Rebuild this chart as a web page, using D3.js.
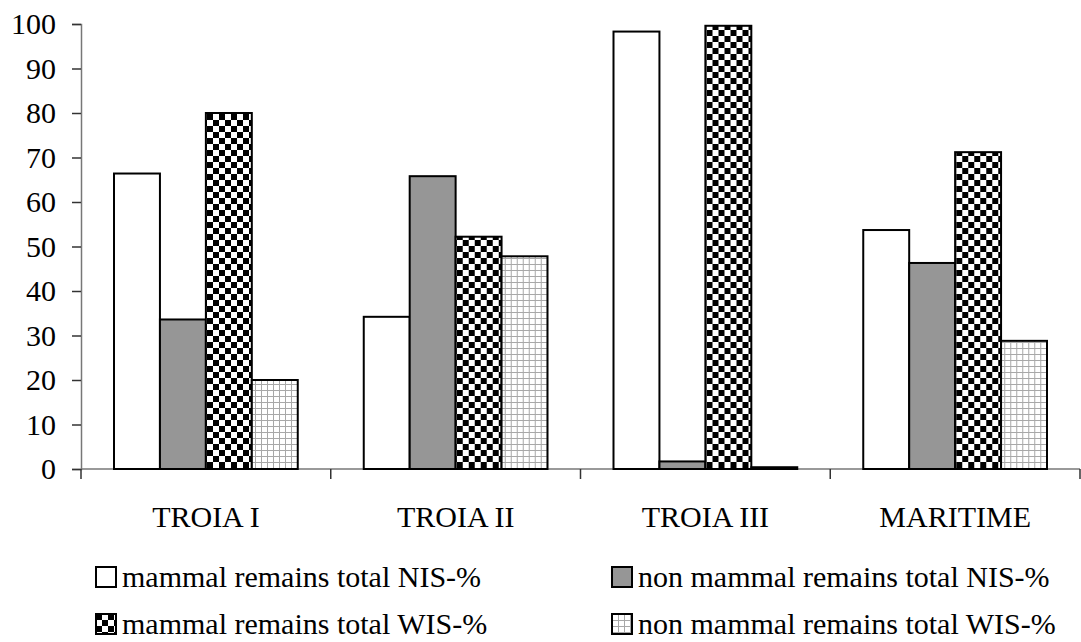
<!DOCTYPE html>
<html>
<head>
<meta charset="utf-8">
<script src="https://cdn.jsdelivr.net/npm/d3@7"></script>
<style>
  body { margin: 0; background: #fff; }
  svg text { font-family: "Liberation Serif", "Times New Roman", serif; fill: #000; }
</style>
</head>
<body>
<svg id="chart" width="1081" height="642"></svg>
<script>
// data
const sites = ["TROIA I", "TROIA II", "TROIA III", "MARITIME"];
const seriesNames = [
  "mammal remains total NIS-%",
  "non mammal remains total NIS-%",
  "mammal remains total WIS-%",
  "non mammal remains total WIS-%"
];
const mammalNIS = [66.4, 34.2, 98.3, 53.7];
const nonMammalNIS = [33.6, 65.8, 1.7, 46.3];
const mammalWIS = [80.0, 52.2, 99.6, 71.2];
const nonMammalWIS = [20.0, 47.8, 0.4, 28.8];
const yTicks = [0, 10, 20, 30, 40, 50, 60, 70, 80, 90, 100];

const allSeries = [mammalNIS, nonMammalNIS, mammalWIS, nonMammalWIS];
const fills = ["#ffffff", "#969696", "url(#checker)", "url(#grid)"];

const svg = d3.select("#chart");
const margin = { top: 24, right: 1, bottom: 173, left: 81 };
const width = 1081 - margin.left - margin.right;
const height = 642 - margin.top - margin.bottom;

// patterns
const defs = svg.append("defs");
const checker = defs.append("pattern")
  .attr("id", "checker").attr("patternUnits", "userSpaceOnUse")
  .attr("width", 12).attr("height", 12);
checker.append("rect").attr("width", 12).attr("height", 12).attr("fill", "#fff");
checker.append("rect").attr("width", 6).attr("height", 6).attr("fill", "#000");
checker.append("rect").attr("x", 6).attr("y", 6).attr("width", 6).attr("height", 6).attr("fill", "#000");

const grid = defs.append("pattern")
  .attr("id", "grid").attr("patternUnits", "userSpaceOnUse")
  .attr("width", 6).attr("height", 6);
grid.append("rect").attr("width", 6).attr("height", 6).attr("fill", "#fff");
grid.append("path").attr("d", "M0,0.5H6M0.5,0V6")
  .attr("stroke", "#a8a8a8").attr("stroke-width", 1).attr("fill", "none");

const g = svg.append("g")
  .attr("transform", "translate(" + margin.left + "," + margin.top + ")");

const x0 = d3.scaleBand().domain(sites).range([0, width]).paddingInner(0).paddingOuter(0);
const x1 = d3.scaleBand().domain(d3.range(4)).range([33, x0.bandwidth() - 33]);
const y = d3.scaleLinear().domain([0, 100]).range([height, 0]);

// y axis
const yAxis = g.append("g")
  .call(d3.axisLeft(y).tickValues(yTicks).tickSize(9).tickPadding(16));
yAxis.select(".domain").attr("stroke", "#777").attr("stroke-width", 1.5);
yAxis.selectAll(".tick line").attr("stroke", "#333").attr("stroke-width", 1.5);
yAxis.selectAll(".tick text").style("font-size", "30px");

// x axis
const xAxis = g.append("g")
  .attr("transform", "translate(0," + height + ")")
  .call(d3.axisBottom(x0).tickSize(0).tickPadding(37));
xAxis.select(".domain").remove();
xAxis.append("line")
  .attr("x1", 0).attr("x2", width)
  .attr("stroke", "#777").attr("stroke-width", 1.5);
xAxis.selectAll(".tick text").style("font-size", "30px");
xAxis.selectAll(".catTick")
  .data(d3.range(sites.length + 1))
  .enter().append("line")
  .attr("x1", (d) => d * x0.bandwidth())
  .attr("x2", (d) => d * x0.bandwidth())
  .attr("y1", 0).attr("y2", 10)
  .attr("stroke", "#333").attr("stroke-width", 1.5);

// bars
const groups = g.selectAll(".site")
  .data(sites)
  .enter().append("g")
  .attr("transform", (d) => "translate(" + x0(d) + ",0)");

groups.selectAll("rect")
  .data((d, i) => allSeries.map((s, k) => ({ k: k, v: s[i] })))
  .enter().append("rect")
  .attr("x", (d) => x1(d.k))
  .attr("y", (d) => y(d.v))
  .attr("width", x1.bandwidth())
  .attr("height", (d) => height - y(d.v))
  .attr("fill", (d) => fills[d.k])
  .attr("stroke", "#000")
  .attr("stroke-width", 2);

// legend
const legendPos = [
  { x: 96, y: 567 }, { x: 612, y: 567 },
  { x: 96, y: 614 }, { x: 612, y: 614 }
];
const legend = svg.selectAll(".legend")
  .data(seriesNames)
  .enter().append("g")
  .attr("transform", (d, i) => "translate(" + legendPos[i].x + "," + legendPos[i].y + ")");
legend.append("rect")
  .attr("width", 20).attr("height", 20)
  .attr("fill", (d, i) => fills[i])
  .attr("stroke", "#000").attr("stroke-width", 2);
legend.append("text")
  .attr("x", 26).attr("y", 20)
  .style("font-size", "30px")
  .text((d) => d);
</script>
</body>
</html>
